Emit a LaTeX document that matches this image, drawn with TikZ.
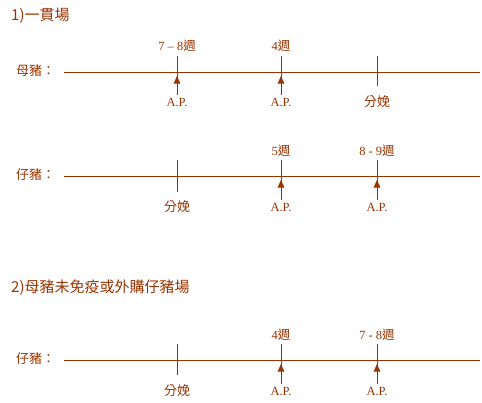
\documentclass[tikz,border=0pt]{standalone}
\usepackage{fontspec}
\setmainfont{Liberation Serif}
\newfontfamily\cjk{Noto Sans CJK TC}
\usetikzlibrary{arrows.meta}
\definecolor{brn}{RGB}{153,51,0}
\begin{document}
\begin{tikzpicture}[x=1pt,y=-1pt,
  every node/.style={text=brn, inner sep=0pt},
  lab/.style={font=\fontsize{12.5}{13}\selectfont},
  cjklab/.style={font=\cjk\fontsize{13}{14}\selectfont},
  ttl/.style={font=\cjk\fontsize{15}{16}\selectfont, anchor=west},
  axis/.style={draw=brn, line width=1pt},
  tick/.style={draw=brn, line width=1pt},
  aparrow/.style={draw=brn, fill=brn, line width=1pt, -{Triangle[width=6.5pt,length=7.5pt]}}]
\useasboundingbox (0,0) rectangle (482,402);

% ---------- section 1 ----------
\node[ttl] (title1) at (11,16) {1)一貫場};

% sow row
\node[cjklab, anchor=west] (sow) at (16,71) {母豬：};
\coordinate (a1s) at (64,72); \coordinate (a1e) at (480,72);
\draw[axis] (a1s) -- (a1e);
% tick 7-8
\coordinate (s1t) at (177,56); \coordinate (s1b) at (177,95); \coordinate (s1p) at (177,76);
\draw[tick] (s1t) -- (s1b); \draw[aparrow] (s1b) -- (s1p);
\node[lab] (s1l) at (177,46) {7 – 8{\cjk 週}};
\node[lab] (s1a) at (177,102) {A.P.};
% tick 4
\coordinate (s2t) at (281,56); \coordinate (s2b) at (281,95); \coordinate (s2p) at (281,76);
\draw[tick] (s2t) -- (s2b); \draw[aparrow] (s2b) -- (s2p);
\node[lab] (s2l) at (281,46) {4{\cjk 週}};
\node[lab] (s2a) at (281,102) {A.P.};
% farrowing
\coordinate (s3t) at (377,56); \coordinate (s3b) at (377,86);
\draw[tick] (s3t) -- (s3b);
\node[cjklab] (s3a) at (377,102) {分娩};

% piglet row
\node[cjklab, anchor=west] (pig1) at (16,175) {仔豬：};
\coordinate (a2s) at (64,176); \coordinate (a2e) at (480,176);
\draw[axis] (a2s) -- (a2e);
\coordinate (p1t) at (177,160); \coordinate (p1b) at (177,192);
\draw[tick] (p1t) -- (p1b);
\node[cjklab] (p1a) at (177,207) {分娩};
\coordinate (p2t) at (281,160); \coordinate (p2b) at (281,200); \coordinate (p2p) at (281,180);
\draw[tick] (p2t) -- (p2b); \draw[aparrow] (p2b) -- (p2p);
\node[lab] (p2l) at (281,151) {5{\cjk 週}};
\node[lab] (p2a) at (281,207) {A.P.};
\coordinate (p3t) at (377,160); \coordinate (p3b) at (377,200); \coordinate (p3p) at (377,180);
\draw[tick] (p3t) -- (p3b); \draw[aparrow] (p3b) -- (p3p);
\node[lab] (p3l) at (377,151) {8 - 9{\cjk 週}};
\node[lab] (p3a) at (377,207) {A.P.};

% ---------- section 2 ----------
\node[ttl] (title2) at (11,288) {2)母豬未免疫或外購仔豬場};
\node[cjklab, anchor=west] (pig2) at (16,359) {仔豬：};
\coordinate (a3s) at (64,360); \coordinate (a3e) at (480,360);
\draw[axis] (a3s) -- (a3e);
\coordinate (q1t) at (177,344); \coordinate (q1b) at (177,375);
\draw[tick] (q1t) -- (q1b);
\node[cjklab] (q1a) at (177,391) {分娩};
\coordinate (q2t) at (281,344); \coordinate (q2b) at (281,384); \coordinate (q2p) at (281,364);
\draw[tick] (q2t) -- (q2b); \draw[aparrow] (q2b) -- (q2p);
\node[lab] (q2l) at (281,335) {4{\cjk 週}};
\node[lab] (q2a) at (281,391) {A.P.};
\coordinate (q3t) at (377,344); \coordinate (q3b) at (377,384); \coordinate (q3p) at (377,364);
\draw[tick] (q3t) -- (q3b); \draw[aparrow] (q3b) -- (q3p);
\node[lab] (q3l) at (377,335) {7 - 8{\cjk 週}};
\node[lab] (q3a) at (377,391) {A.P.};
\end{tikzpicture}
\end{document}
